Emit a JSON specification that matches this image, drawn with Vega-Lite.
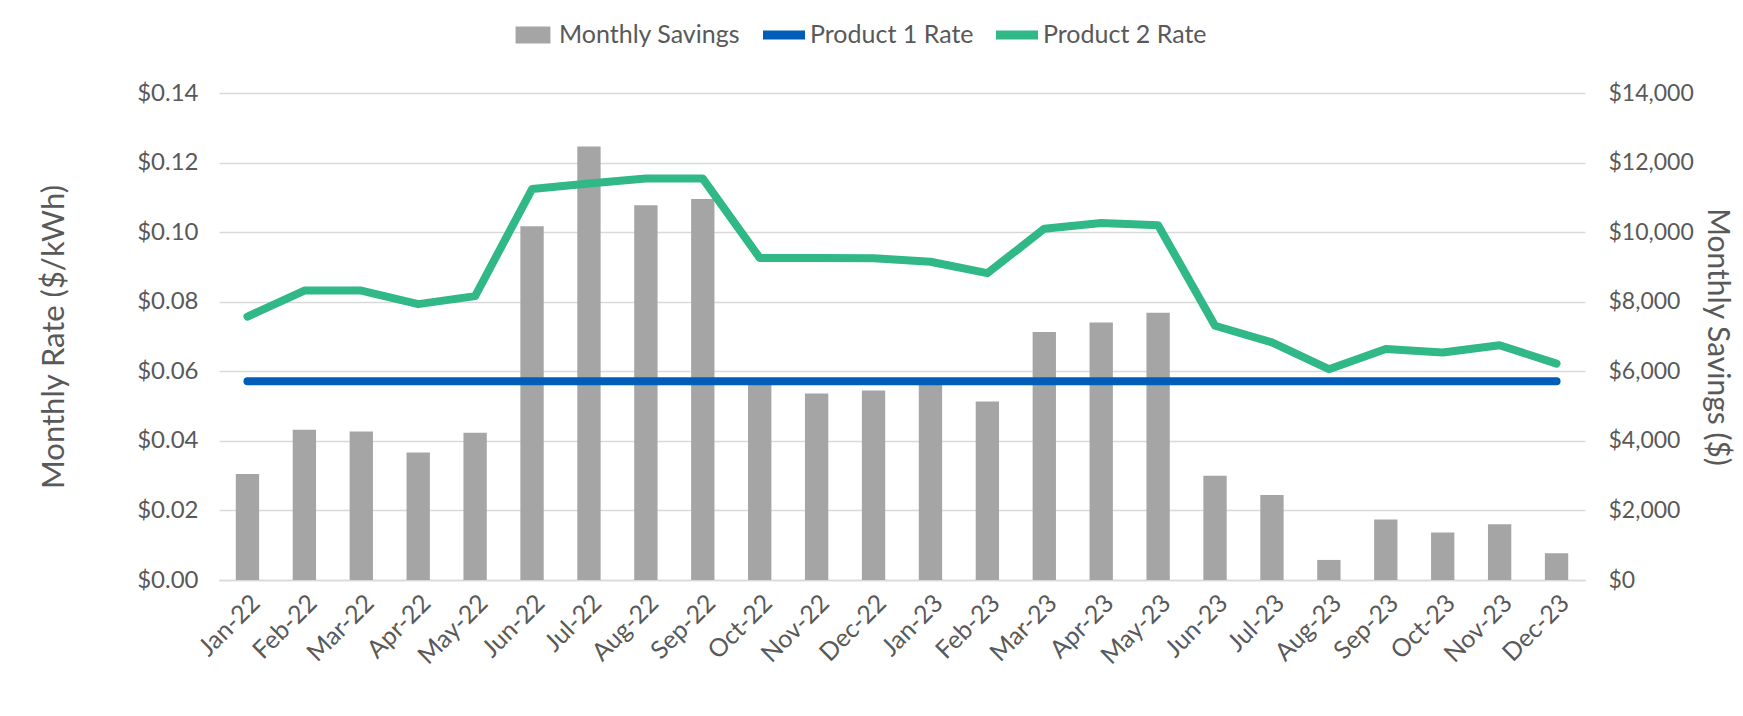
{
  "$schema": "https://vega.github.io/schema/vega-lite/v6.json",
  "width": 1366,
  "height": 487,
  "autosize": {"type": "none"},
  "padding": {"left": 219, "top": 93, "right": 158, "bottom": 136},
  "background": "white",
  "config": {
    "view": {"stroke": null},
    "font": "Lato",
    "axis": {"labelFont": "Lato", "titleFont": "Lato", "labelColor": "#595959", "titleColor": "#595959", "titleFontWeight": "normal"},
    "legend": {"labelFont": "Lato"}
  },
  "data": {
    "values": [
      {"month": "Jan-22", "savings": 3050, "p1": 0.0571, "p2": 0.0757},
      {"month": "Feb-22", "savings": 4317, "p1": 0.0571, "p2": 0.0832},
      {"month": "Mar-22", "savings": 4269, "p1": 0.0571, "p2": 0.0832},
      {"month": "Apr-22", "savings": 3663, "p1": 0.0571, "p2": 0.0793},
      {"month": "May-22", "savings": 4231, "p1": 0.0571, "p2": 0.0816},
      {"month": "Jun-22", "savings": 10170, "p1": 0.0571, "p2": 0.1124},
      {"month": "Jul-22", "savings": 12460, "p1": 0.0571, "p2": 0.1140},
      {"month": "Aug-22", "savings": 10770, "p1": 0.0571, "p2": 0.1154},
      {"month": "Sep-22", "savings": 10950, "p1": 0.0571, "p2": 0.1154},
      {"month": "Oct-22", "savings": 5700, "p1": 0.0571, "p2": 0.0926},
      {"month": "Nov-22", "savings": 5360, "p1": 0.0571, "p2": 0.0926},
      {"month": "Dec-22", "savings": 5450, "p1": 0.0571, "p2": 0.0925},
      {"month": "Jan-23", "savings": 5700, "p1": 0.0571, "p2": 0.0915},
      {"month": "Feb-23", "savings": 5130, "p1": 0.0571, "p2": 0.0882},
      {"month": "Mar-23", "savings": 7130, "p1": 0.0571, "p2": 0.1010},
      {"month": "Apr-23", "savings": 7400, "p1": 0.0571, "p2": 0.1026},
      {"month": "May-23", "savings": 7680, "p1": 0.0571, "p2": 0.1020},
      {"month": "Jun-23", "savings": 3000, "p1": 0.0571, "p2": 0.0731},
      {"month": "Jul-23", "savings": 2442, "p1": 0.0571, "p2": 0.0683},
      {"month": "Aug-23", "savings": 577, "p1": 0.0571, "p2": 0.0606},
      {"month": "Sep-23", "savings": 1740, "p1": 0.0571, "p2": 0.0664},
      {"month": "Oct-23", "savings": 1365, "p1": 0.0571, "p2": 0.0654},
      {"month": "Nov-23", "savings": 1606, "p1": 0.0571, "p2": 0.0675},
      {"month": "Dec-23", "savings": 769, "p1": 0.0571, "p2": 0.0622}
    ]
  },
  "encoding": {
    "x": {
      "field": "month",
      "type": "nominal",
      "sort": null,
      "scale": {"paddingInner": 0.59, "paddingOuter": 0.295},
      "axis": {
        "title": null,
        "labelAngle": -45,
        "labelFontSize": 25,
        "labelPadding": 10,
        "ticks": false,
        "domain": true,
        "domainColor": "#D9D9D9",
        "domainWidth": 1.5
      }
    }
  },
  "layer": [
    {
      "mark": {"type": "bar", "color": "#A5A5A5"},
      "encoding": {
        "y": {
          "field": "savings",
          "type": "quantitative",
          "scale": {"domain": [0, 14000], "nice": false},
          "axis": {
            "orient": "right",
            "values": [0, 2000, 4000, 6000, 8000, 10000, 12000, 14000],
            "format": "$,.0f",
            "labelFontSize": 23,
            "labelPadding": 23,
            "ticks": false,
            "domain": false,
            "grid": false,
            "title": "Monthly Savings ($)",
            "titleFontSize": 30,
            "titlePadding": 8
          }
        },
        "color": {"datum": "Monthly Savings", "type": "nominal"}
      }
    },
    {
      "transform": [
        {"fold": ["p1", "p2"], "as": ["key", "rate"]},
        {"lookup": "key", "from": {"data": {"values": [{"key": "p1", "series": "Product 1 Rate"}, {"key": "p2", "series": "Product 2 Rate"}]}, "key": "key", "fields": ["series"]}}
      ],
      "mark": {"type": "line", "strokeWidth": 8, "strokeCap": "round", "strokeJoin": "round"},
      "encoding": {
        "y": {
          "field": "rate",
          "type": "quantitative",
          "scale": {"domain": [0, 0.14], "nice": false},
          "axis": {
            "orient": "left",
            "values": [0, 0.02, 0.04, 0.06, 0.08, 0.1, 0.12, 0.14],
            "format": "$.2f",
            "labelFontSize": 24,
            "labelPadding": 21,
            "ticks": false,
            "domain": false,
            "grid": true,
            "gridColor": "#D9D9D9",
            "gridWidth": 1.5,
            "title": "Monthly Rate ($/kWh)",
            "titleFontSize": 31,
            "titlePadding": 66
          }
        },
        "color": {
          "field": "series",
          "type": "nominal",
          "scale": {
            "domain": ["Monthly Savings", "Product 1 Rate", "Product 2 Rate"],
            "range": ["#A5A5A5", "#005EB8", "#30B887"]
          },
          "legend": {
            "orient": "none",
            "legendX": 293,
            "legendY": -79,
            "direction": "horizontal",
            "title": null,
            "labelFontSize": 25,
            "labelLimit": 0,
            "labelColor": "#595959",
            "symbolSize": 1764,
            "labelOffset": 5,
            "columnPadding": 22,
            "encode": {
              "symbols": {
                "update": {
                  "shape": {"signal": "datum.value === 'Monthly Savings' ? 'M-0.83,-0.4H0.83V0.4H-0.83Z' : 'M-1,-0.22H1V0.22H-1Z'"},
                  "fill": {"scale": "color", "field": "value"},
                  "fillOpacity": {"value": 1},
                  "strokeWidth": {"value": 0}
                }
              }
            }
          }
        }
      }
    }
  ],
  "resolve": {"scale": {"y": "independent"}}
}
